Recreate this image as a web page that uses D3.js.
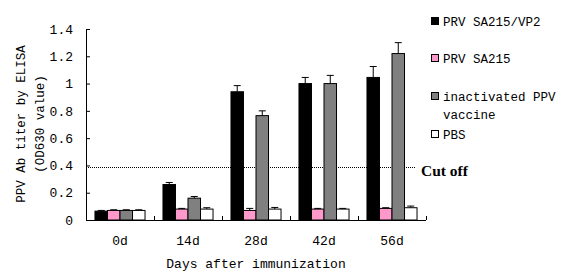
<!DOCTYPE html>
<html><head><meta charset="utf-8">
<script src="https://cdn.jsdelivr.net/npm/d3@7"></script>
<style>body{margin:0;background:#fff;} svg{display:block;}</style>
</head><body>
<svg id="c" width="570" height="279"></svg>
<script>
const categories = ["0d","14d","28d","42d","56d"];
const seriesNames = ["PRV SA215/VP2","PRV SA215","inactivated PPV vaccine","PBS"];
const seriesColors = ["#000000","#ff99cc","#808080","#ffffff"];
const vp2 = [0.065, 0.26, 0.94, 1.0, 1.045];
const vp2Err = [0.005, 0.015, 0.045, 0.045, 0.08];
const sa215 = [0.07, 0.08, 0.07, 0.08, 0.085];
const sa215Err = [0.005, 0.005, 0.015, 0.005, 0.005];
const vaccine = [0.07, 0.16, 0.765, 1.0, 1.22];
const vaccineErr = [0.005, 0.012, 0.035, 0.06, 0.08];
const pbs = [0.07, 0.08, 0.08, 0.08, 0.09];
const pbsErr = [0.005, 0.01, 0.012, 0.005, 0.012];
const yTicks = [0, 0.2, 0.4, 0.6, 0.8, 1, 1.2, 1.4];
const cutoff = 0.39;

const values = [vp2, sa215, vaccine, pbs];
const errs = [vp2Err, sa215Err, vaccineErr, pbsErr];

const svg = d3.select("#c");
const pLeft = 86, pRight = 426, pTop = 29, pBottom = 220;
const mono = "'Liberation Mono', 'DejaVu Sans Mono', monospace";

const x = d3.scaleBand().domain(categories).range([pLeft, pRight]).paddingInner(0.264).paddingOuter(0.132);
const xs = d3.scaleBand().domain(d3.range(4)).range([0, x.bandwidth()]);
const y = d3.scaleLinear().domain([0, 1.4]).range([pBottom, pTop]);

// cutoff line
svg.append("line").attr("x1", pLeft).attr("x2", 415)
  .attr("y1", Math.round(y(cutoff)) + 0.5).attr("y2", Math.round(y(cutoff)) + 0.5)
  .attr("stroke", "#000").attr("stroke-width", 1).attr("stroke-dasharray", "1,1");

// bars
categories.forEach((c, i) => {
  values.forEach((vals, s) => {
    const bx = x(c) + xs(s);
    const v = vals[i], e = errs[s][i];
    const cx = bx + xs.bandwidth() / 2;
    svg.append("line").attr("x1", cx).attr("x2", cx).attr("y1", y(v)).attr("y2", y(v + e))
      .attr("stroke", "#000").attr("stroke-width", 1);
    svg.append("line").attr("x1", cx - 3.5).attr("x2", cx + 3.5).attr("y1", y(v + e)).attr("y2", y(v + e))
      .attr("stroke", "#000").attr("stroke-width", 1);
    svg.append("rect").attr("x", bx).attr("y", y(v)).attr("width", xs.bandwidth()).attr("height", y(0) - y(v))
      .attr("fill", seriesColors[s]).attr("stroke", "#000").attr("stroke-width", 1);
  });
});

// y axis
const yAxis = d3.axisLeft(y).tickValues(yTicks).tickSizeInner(-4).tickSizeOuter(0).tickPadding(13)
  .tickFormat(d => d3.format("")(+d.toFixed(1)));
const gy = svg.append("g").attr("transform", `translate(${pLeft},0)`).call(yAxis);
gy.selectAll("text").attr("font-family", mono).attr("font-size", 13).attr("fill", "#000");
gy.selectAll("line,path").attr("stroke", "#000");

// x axis
const boundaries = d3.range(categories.length + 1).map(i => pLeft + i * (pRight - pLeft) / categories.length);
svg.append("line").attr("x1", pLeft).attr("x2", pRight).attr("y1", pBottom + 0.5).attr("y2", pBottom + 0.5).attr("stroke", "#000");
boundaries.forEach(b => {
  svg.append("line").attr("x1", b + 0.5).attr("x2", b + 0.5).attr("y1", pBottom).attr("y2", pBottom - 4).attr("stroke", "#000");
});
categories.forEach(c => {
  svg.append("text").attr("x", x(c) + x.bandwidth() / 2).attr("y", 245).attr("text-anchor", "middle")
    .attr("font-family", mono).attr("font-size", 13).text(c);
});
svg.append("text").attr("x", 256).attr("y", 268).attr("text-anchor", "middle")
  .attr("font-family", mono).attr("font-size", 13).text("Days after immunization");

// y label
const yl = svg.append("text").attr("transform", "translate(25,124) rotate(-90)").attr("text-anchor", "middle")
  .attr("font-family", mono).attr("font-size", 12.5);
yl.append("tspan").attr("x", 0).attr("y", 0).text("PPV Ab titer by ELISA");
yl.append("tspan").attr("x", 0).attr("y", 19).text("(OD630 value)");

// legend
const legendRows = [
  {s: 0, y: 21, lines: ["PRV SA215/VP2"]},
  {s: 1, y: 58, lines: ["PRV SA215"]},
  {s: 2, y: 96, lines: ["inactivated PPV", "vaccine"]},
  {s: 3, y: 134, lines: ["PBS"]}
];
legendRows.forEach(r => {
  svg.append("rect").attr("x", 431.5).attr("y", r.y - 3.5).attr("width", 7).attr("height", 7)
    .attr("fill", seriesColors[r.s]).attr("stroke", "#000");
  r.lines.forEach((t, k) => {
    svg.append("text").attr("x", 443).attr("y", r.y + 4.5 + k * 18).attr("font-family", mono)
      .attr("font-size", 12.5).text(t);
  });
});

svg.append("text").attr("x", 421).attr("y", 176).attr("font-family", "'Liberation Serif', serif")
  .attr("font-size", 15.5).attr("font-weight", "bold").text("Cut off");
</script>
</body></html>
